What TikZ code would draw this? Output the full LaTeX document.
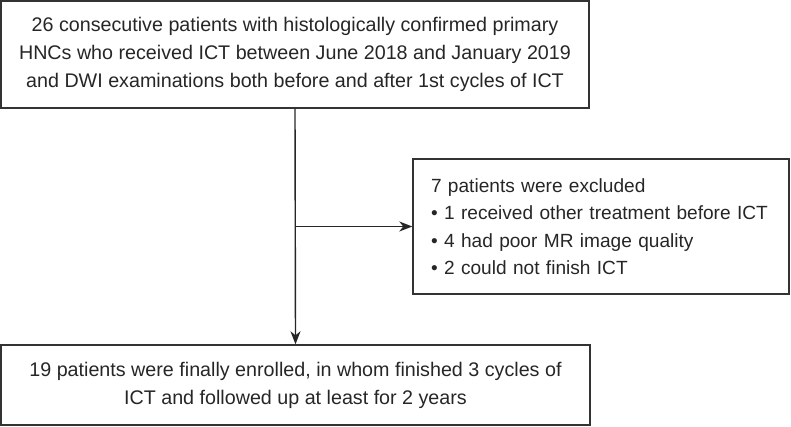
\documentclass[tikz,border=0pt]{standalone}
\usepackage{fontspec}
\setmainfont{Liberation Sans}
\usepackage{tikz}
\usetikzlibrary{shapes,arrows.meta,positioning}

\begin{document}
\begin{tikzpicture}[x=1pt,y=1pt,->,>={Stealth[length=13pt,width=10pt,inset=4pt]},line width=1.4pt,draw=black!85]
\tikzstyle{every node}=[text=black!85]
\tikzstyle{box}=[draw=black!80,line width=1.4pt,align=center,inner sep=0pt,font=\fontsize{19.7}{28}\selectfont]
\useasboundingbox (0,0) rectangle (791,426);
\node[box,minimum width=588,minimum height=107] (screen) at (295,371.5)
  {26 consecutive patients with histologically confirmed primary\\
   HNCs who received ICT between June 2018 and January 2019\\
   and DWI examinations both before and after 1st cycles of ICT};
\node[box,minimum width=589,minimum height=80] (enrol) at (295.5,41)
  {19 patients were finally enrolled, in whom finished 3 cycles of\\
   ICT and followed up at least for 2 years};
\node[box,align=left,font=\fontsize{19.1}{27.5}\selectfont,minimum width=376,minimum height=135,
  text width=340,inner xsep=18pt] (excl) at (601,199.5)
  {7 patients were excluded\\
   \textbullet\ 1 received other treatment before ICT\\
   \textbullet\ 4 had poor MR image quality\\
   \textbullet\ 2 could not finish ICT};
\coordinate (split) at (screen.south |- excl.west);
\draw (screen.south) -- (enrol.north);
\draw (split) -- (excl.west);
\end{tikzpicture}
\end{document}
